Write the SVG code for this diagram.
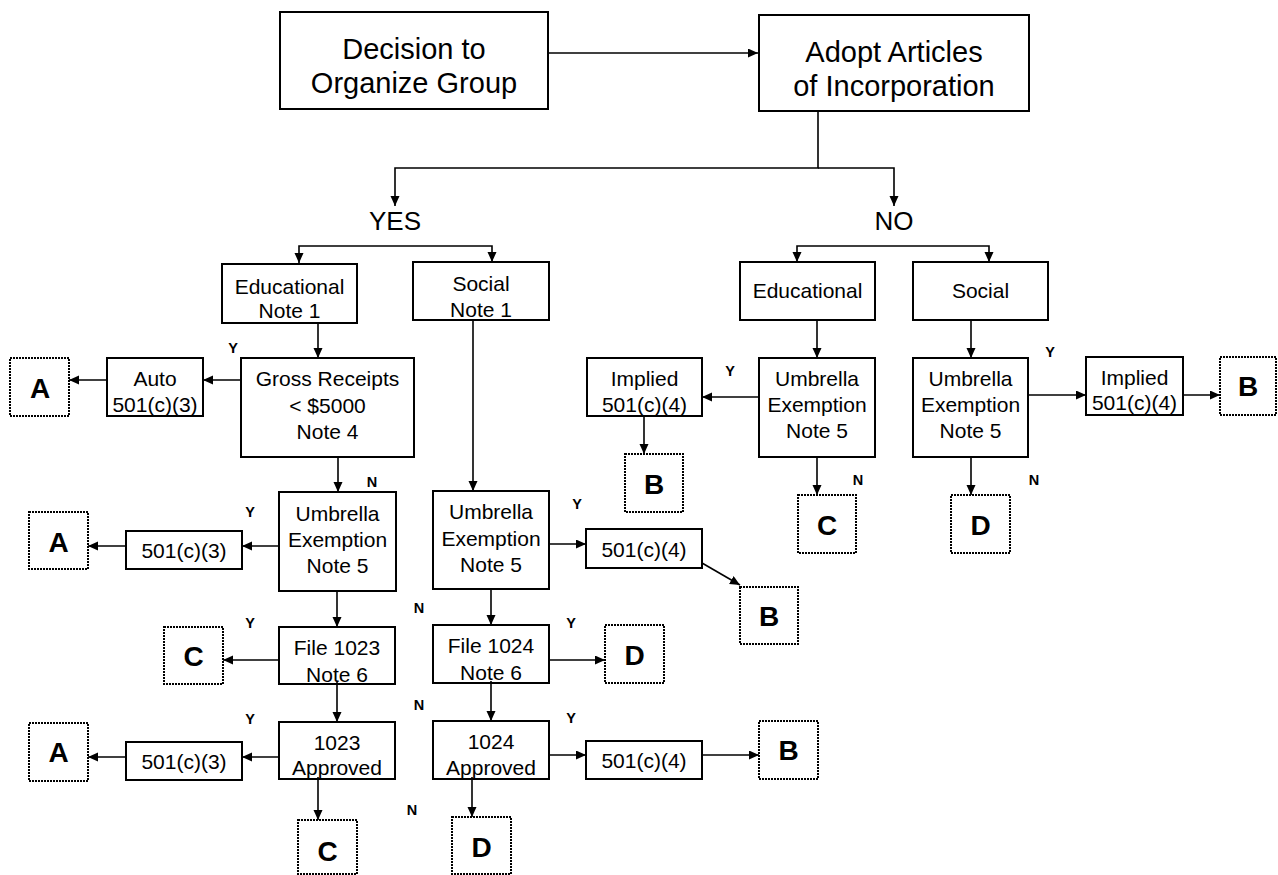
<svg xmlns="http://www.w3.org/2000/svg" width="1278" height="875" viewBox="0 0 1278 875">
<defs>
<marker id="ah" markerUnits="userSpaceOnUse" markerWidth="11" markerHeight="10" refX="10" refY="4.5" orient="auto">
<path d="M0,0 L10,4.5 L0,9 z" fill="#000"/>
</marker>
<style>
.b{fill:#fff;stroke:#000;stroke-width:2}
.d{fill:#fff;stroke:#000;stroke-width:2;stroke-dasharray:2 1}
.t{font-family:"Liberation Sans",Arial,sans-serif;font-size:21px;fill:#000;text-anchor:middle}
.big{font-size:29px}
.hd{font-size:26px}
.L{font-family:"Liberation Sans",Arial,sans-serif;font-weight:bold;font-size:28px;fill:#000;text-anchor:middle}
.yn{font-family:"Liberation Sans",Arial,sans-serif;font-weight:bold;font-size:14.5px;fill:#000;text-anchor:middle}
.c{fill:none;stroke:#000;stroke-width:1.6;marker-end:url(#ah)}
</style>
</defs>
<rect width="1278" height="875" fill="#fff"/>

<g id="labels">
<text class="t hd" x="395" y="230">YES</text>
<text class="t hd" x="894" y="230">NO</text>
<text class="yn" x="233" y="353">Y</text>
<text class="yn" x="372" y="487">N</text>
<text class="yn" x="250" y="517">Y</text>
<text class="yn" x="419" y="613">N</text>
<text class="yn" x="250" y="628">Y</text>
<text class="yn" x="419" y="710">N</text>
<text class="yn" x="250" y="724">Y</text>
<text class="yn" x="412" y="815">N</text>
<text class="yn" x="577" y="509">Y</text>
<text class="yn" x="571" y="628">Y</text>
<text class="yn" x="571" y="723">Y</text>
<text class="yn" x="730" y="376">Y</text>
<text class="yn" x="858" y="485">N</text>
<text class="yn" x="1034" y="485">N</text>
<text class="yn" x="1050" y="357">Y</text>
</g>

<g id="decision"><rect class="b" x="280" y="12" width="268" height="97"/><text class="t big" x="414" y="59">Decision to</text><text class="t big" x="414" y="93">Organize Group</text></g>
<g id="adopt"><rect class="b" x="759" y="15" width="270" height="96"/><text class="t big" x="894" y="62">Adopt Articles</text><text class="t big" x="894" y="96">of Incorporation</text></g>

<g id="yes-edu"><rect class="b" x="222" y="264" width="135" height="59"/><text class="t" x="289.5" y="294">Educational</text><text class="t" x="289.5" y="318">Note 1</text></g>
<g id="yes-social"><rect class="b" x="413" y="262" width="136" height="58"/><text class="t" x="481" y="291">Social</text><text class="t" x="481" y="317">Note 1</text></g>

<g id="gross"><rect class="b" x="241" y="358" width="173" height="99"/><text class="t" x="327.5" y="386">Gross Receipts</text><text class="t" x="327.5" y="413">&lt; $5000</text><text class="t" x="327.5" y="439">Note 4</text></g>
<g id="auto"><rect class="b" x="107" y="358" width="96" height="58"/><text class="t" x="155" y="386">Auto</text><text class="t" x="155" y="412">501(c)(3)</text></g>
<g id="a1"><rect class="d" x="10" y="358" width="59" height="58"/><text class="L" x="40" y="398">A</text></g>

<g id="umb-yes-edu"><rect class="b" x="279" y="492" width="117" height="99"/><text class="t" x="337.5" y="521">Umbrella</text><text class="t" x="337.5" y="547">Exemption</text><text class="t" x="337.5" y="573">Note 5</text></g>
<g id="c3-a"><rect class="b" x="126" y="531" width="116" height="38"/><text class="t" x="184" y="558">501(c)(3)</text></g>
<g id="a2"><rect class="d" x="29" y="512" width="59" height="57"/><text class="L" x="58.5" y="552">A</text></g>

<g id="file1023"><rect class="b" x="279" y="627" width="116" height="57"/><text class="t" x="337" y="655">File 1023</text><text class="t" x="337" y="682">Note 6</text></g>
<g id="c1"><rect class="d" x="164" y="627" width="59" height="57"/><text class="L" x="193.5" y="666">C</text></g>

<g id="appr1023"><rect class="b" x="279" y="722" width="116" height="57"/><text class="t" x="337" y="750">1023</text><text class="t" x="337" y="775">Approved</text></g>
<g id="c3-b"><rect class="b" x="126" y="742" width="116" height="38"/><text class="t" x="184" y="769">501(c)(3)</text></g>
<g id="a3"><rect class="d" x="29" y="723" width="59" height="58"/><text class="L" x="58.5" y="762">A</text></g>
<g id="c2"><rect class="d" x="298" y="820" width="59" height="54"/><text class="L" x="327.5" y="861">C</text></g>

<g id="umb-yes-soc"><rect class="b" x="433" y="491" width="116" height="98"/><text class="t" x="491" y="519">Umbrella</text><text class="t" x="491" y="546">Exemption</text><text class="t" x="491" y="572">Note 5</text></g>
<g id="c4-a"><rect class="b" x="586" y="529" width="116" height="39"/><text class="t" x="644" y="557">501(c)(4)</text></g>
<g id="b1"><rect class="d" x="740" y="587" width="58" height="57"/><text class="L" x="769" y="626">B</text></g>

<g id="file1024"><rect class="b" x="433" y="625" width="116" height="58"/><text class="t" x="491" y="653">File 1024</text><text class="t" x="491" y="680">Note 6</text></g>
<g id="d1"><rect class="d" x="605" y="625" width="59" height="58"/><text class="L" x="634.5" y="665">D</text></g>

<g id="appr1024"><rect class="b" x="433" y="721" width="116" height="58"/><text class="t" x="491" y="749">1024</text><text class="t" x="491" y="775">Approved</text></g>
<g id="c4-b"><rect class="b" x="586" y="741" width="116" height="38"/><text class="t" x="644" y="768">501(c)(4)</text></g>
<g id="b2"><rect class="d" x="759" y="721" width="59" height="58"/><text class="L" x="788.5" y="760">B</text></g>
<g id="d2"><rect class="d" x="452" y="817" width="59" height="57"/><text class="L" x="481.5" y="857">D</text></g>

<g id="no-edu"><rect class="b" x="740" y="262" width="135" height="58"/><text class="t" x="807.5" y="298">Educational</text></g>
<g id="no-soc"><rect class="b" x="913" y="262" width="135" height="58"/><text class="t" x="980.5" y="298">Social</text></g>

<g id="umb-no-edu"><rect class="b" x="759" y="358" width="116" height="99"/><text class="t" x="817" y="386">Umbrella</text><text class="t" x="817" y="412">Exemption</text><text class="t" x="817" y="438">Note 5</text></g>
<g id="implied-l"><rect class="b" x="587" y="358" width="115" height="58"/><text class="t" x="644.5" y="386">Implied</text><text class="t" x="644.5" y="412">501(c)(4)</text></g>
<g id="b3"><rect class="d" x="625" y="454" width="58" height="58"/><text class="L" x="654" y="494">B</text></g>
<g id="c3"><rect class="d" x="798" y="495" width="58" height="58"/><text class="L" x="827" y="535">C</text></g>

<g id="umb-no-soc"><rect class="b" x="913" y="358" width="115" height="99"/><text class="t" x="970.5" y="386">Umbrella</text><text class="t" x="970.5" y="412">Exemption</text><text class="t" x="970.5" y="438">Note 5</text></g>
<g id="d3"><rect class="d" x="951" y="495" width="59" height="58"/><text class="L" x="980.5" y="535">D</text></g>
<g id="implied-r"><rect class="b" x="1086" y="357" width="97" height="58"/><text class="t" x="1134.5" y="385">Implied</text><text class="t" x="1134.5" y="410">501(c)(4)</text></g>
<g id="b4"><rect class="d" x="1220" y="357" width="56" height="58"/><text class="L" x="1248" y="396">B</text></g>

<g id="connectors">
<path class="c" d="M548,53 H758"/>
<path class="c" d="M818,111 V168 H395 V206"/>
<path class="c" d="M818,168 H894 V206"/>
<path class="c" d="M395,246 H299 V263"/>
<path class="c" d="M395,246 H492 V262"/>
<path class="c" d="M894,246 H797 V262"/>
<path class="c" d="M894,246 H989 V262"/>
<path class="c" d="M318,323 V358"/>
<path class="c" d="M241,380 H203"/>
<path class="c" d="M107,380 H69"/>
<path class="c" d="M338,457 V492"/>
<path class="c" d="M279,546 H242"/>
<path class="c" d="M126,546 H88"/>
<path class="c" d="M337,591 V627"/>
<path class="c" d="M279,660 H223"/>
<path class="c" d="M337,682 V722"/>
<path class="c" d="M279,757 H242"/>
<path class="c" d="M126,757 H88"/>
<path class="c" d="M318,777 V820"/>
<path class="c" d="M473,320 V491"/>
<path class="c" d="M549,544 H586"/>
<path class="c" d="M702,563 L740,585"/>
<path class="c" d="M491,589 V625"/>
<path class="c" d="M549,660 H605"/>
<path class="c" d="M491,681 V721"/>
<path class="c" d="M549,755 H586"/>
<path class="c" d="M702,755 H759"/>
<path class="c" d="M472,777 V817"/>
<path class="c" d="M817,320 V358"/>
<path class="c" d="M971,320 V358"/>
<path class="c" d="M759,397 H702"/>
<path class="c" d="M644,416 V454"/>
<path class="c" d="M817,457 V495"/>
<path class="c" d="M971,457 V495"/>
<path class="c" d="M1028,395 H1086"/>
<path class="c" d="M1183,395 H1220"/>
</g>
</svg>
